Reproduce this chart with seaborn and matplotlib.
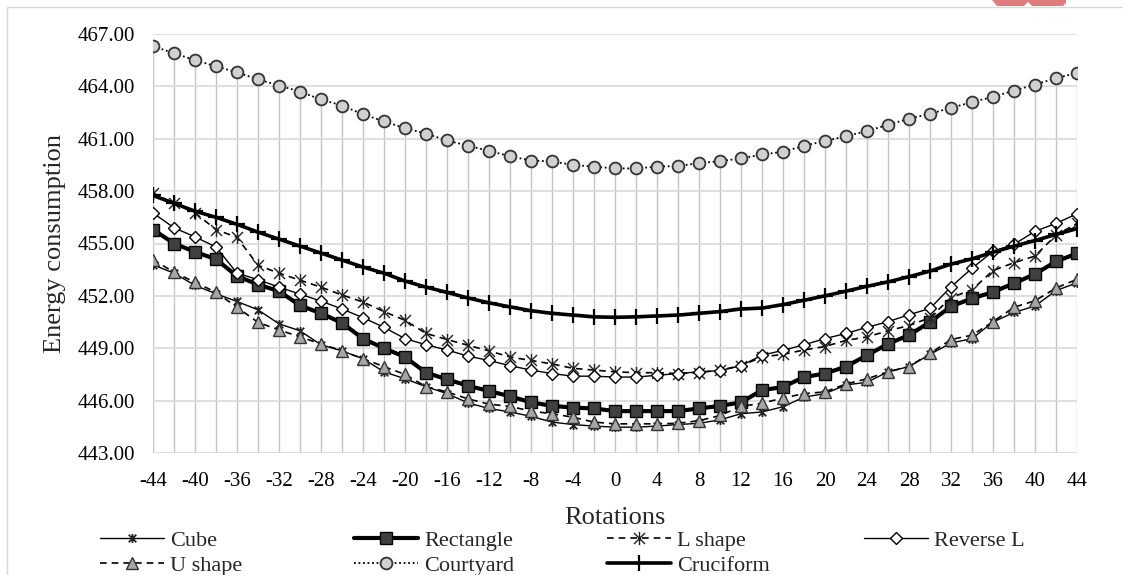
import matplotlib
matplotlib.use("Agg")
import matplotlib.pyplot as plt
import seaborn as sns
from matplotlib.path import Path
from matplotlib.patches import Rectangle, Polygon

rotations = [-44, -42, -40, -38, -36, -34, -32, -30, -28, -26, -24, -22, -20, -18, -16,
             -14, -12, -10, -8, -6, -4, -2, 0, 2, 4, 6, 8, 10, 12, 14, 16, 18, 20, 22,
             24, 26, 28, 30, 32, 34, 36, 38, 40, 42, 44]

cube = [453.78, 453.30, 452.60, 452.12, 451.68, 451.20, 450.40, 450.00, 449.20, 448.85,
        448.40, 447.65, 447.25, 446.80, 446.40, 445.87, 445.55, 445.35, 445.10, 444.77,
        444.63, 444.54, 444.48, 444.48, 444.54, 444.63, 444.70, 444.90, 445.25, 445.35,
        445.65, 446.20, 446.40, 446.90, 447.05, 447.65, 447.95, 448.65, 449.30, 449.55,
        450.50, 451.05, 451.42, 452.30, 452.75]
rectangle = [455.80, 455.00, 454.52, 454.10, 453.13, 452.65, 452.27, 451.45, 451.00, 450.45,
             449.55, 449.00, 448.50, 447.60, 447.22, 446.85, 446.55, 446.25, 445.90, 445.70,
             445.60, 445.55, 445.40, 445.40, 445.40, 445.40, 445.55, 445.70, 445.90, 446.60,
             446.78, 447.35, 447.55, 447.95, 448.60, 449.25, 449.75, 450.50, 451.40, 451.85,
             452.22, 452.72, 453.25, 453.97, 454.43]
l_shape = [457.90, 457.30, 456.75, 455.80, 455.35, 453.75, 453.30, 452.90, 452.50, 452.05,
           451.65, 451.10, 450.60, 449.85, 449.50, 449.17, 448.85, 448.50, 448.30, 448.10,
           447.85, 447.75, 447.65, 447.60, 447.60, 447.55, 447.60, 447.75, 448.00, 448.50,
           448.65, 448.90, 449.10, 449.45, 449.65, 450.00, 450.30, 450.75, 451.90, 452.35,
           453.45, 453.90, 454.28, 455.48, 456.15]
reverse_l = [456.75, 455.90, 455.38, 454.80, 453.30, 452.93, 452.50, 452.10, 451.70, 451.25,
             450.75, 450.20, 449.55, 449.20, 448.90, 448.55, 448.30, 448.00, 447.75, 447.55,
             447.40, 447.40, 447.35, 447.35, 447.45, 447.55, 447.65, 447.72, 448.00, 448.60,
             448.88, 449.20, 449.55, 449.85, 450.20, 450.52, 450.92, 451.28, 452.52, 453.58,
             454.55, 454.95, 455.70, 456.15, 456.70]
u_shape = [454.08, 453.35, 452.78, 452.20, 451.35, 450.48, 450.05, 449.65, 449.25, 448.85,
           448.40, 447.95, 447.50, 446.80, 446.50, 446.10, 445.80, 445.67, 445.40, 445.25,
           445.05, 444.77, 444.67, 444.67, 444.67, 444.70, 444.85, 445.15, 445.67, 445.85,
           446.15, 446.40, 446.50, 446.95, 447.25, 447.65, 447.95, 448.70, 449.50, 449.75,
           450.52, 451.35, 451.72, 452.45, 452.95]
courtyard = [466.30, 465.90, 465.50, 465.15, 464.80, 464.40, 464.05, 463.70, 463.25, 462.90,
             462.40, 462.00, 461.60, 461.30, 460.90, 460.60, 460.30, 460.00, 459.75, 459.70,
             459.50, 459.40, 459.30, 459.30, 459.40, 459.44, 459.60, 459.72, 459.87, 460.10,
             460.25, 460.60, 460.87, 461.15, 461.44, 461.80, 462.15, 462.43, 462.77, 463.10,
             463.40, 463.76, 464.10, 464.47, 464.77]
cruciform = [457.75, 457.30, 456.85, 456.50, 456.10, 455.65, 455.25, 454.85, 454.45, 454.05,
             453.65, 453.30, 452.85, 452.50, 452.20, 451.88, 451.60, 451.37, 451.15, 451.00,
             450.90, 450.80, 450.77, 450.80, 450.85, 450.90, 451.00, 451.10, 451.25, 451.30,
             451.50, 451.75, 452.00, 452.27, 452.55, 452.80, 453.10, 453.42, 453.82, 454.12,
             454.50, 454.85, 455.17, 455.52, 455.85]

y_ticks = [443, 446, 449, 452, 455, 458, 461, 464, 467]
x_ticks = [-44, -40, -36, -32, -28, -24, -20, -16, -12, -8, -4, 0,
           4, 8, 12, 16, 20, 24, 28, 32, 36, 40, 44]

sns.set_style("white")
plt.rcParams["font.family"] = ["Liberation Serif", "DejaVu Serif"]
plt.rcParams["axes.unicode_minus"] = False

W, H = 1123, 575
fig = plt.figure(figsize=(W / 100, H / 100), dpi=100)
ax = fig.add_axes([153 / W, 1 - 453 / H, 924 / W, 419 / H])

# Excel style "star": an X with a vertical bar
star = Path([(-1, -1), (1, 1), (-1, 1), (1, -1), (0, -1.2), (0, 1.2)],
            [Path.MOVETO, Path.LINETO] * 3)

# drop lines from the top series
ax.vlines(rotations, 443, courtyard, color="#c4c4c4", linewidth=1, zorder=0)

series = [
    ("Cube", cube, dict(linewidth=1, linestyle="-", marker=star, markersize=6.5,
                        markeredgecolor="#222222", markerfacecolor="none", markeredgewidth=1.3)),
    ("Rectangle", rectangle, dict(linewidth=3, linestyle="-", marker="s", markersize=8.5,
                                  markerfacecolor="#404040", markeredgecolor="black",
                                  markeredgewidth=1)),
    ("L shape", l_shape, dict(linewidth=1.2, linestyle=(0, (4, 3)), marker=star, markersize=9.5,
                              markeredgecolor="#222222", markerfacecolor="none",
                              markeredgewidth=1)),
    ("Reverse L", reverse_l, dict(linewidth=1, linestyle="-", marker="D", markersize=6.5,
                                  markerfacecolor="white", markeredgecolor="black",
                                  markeredgewidth=1)),
    ("U shape", u_shape, dict(linewidth=1.2, linestyle=(0, (4, 3)), marker="^", markersize=8,
                              markerfacecolor="#a6a6a6", markeredgecolor="#333333",
                              markeredgewidth=1)),
    ("Courtyard", courtyard, dict(linewidth=1.3, linestyle=(0, (1, 1.5)), marker="o",
                                  markersize=8.5, markerfacecolor="#d0d0d0",
                                  markeredgecolor="#333333", markeredgewidth=1.3)),
    ("Cruciform", cruciform, dict(linewidth=2.6, linestyle="-", marker="+", markersize=11,
                                  markeredgecolor="black", markeredgewidth=1.6)),
]

handles = {}
for name, vals, style in series:
    sns.lineplot(x=rotations, y=vals, ax=ax, color="black", legend=False, **style)
    handles[name] = ax.lines[-1]
if ax.get_legend() is not None:
    ax.get_legend().remove()

ax.set_xlim(-44, 44)
ax.set_ylim(443, 467)
ax.set_yticks(y_ticks)
ax.set_yticklabels([f"{v:.2f}" for v in y_ticks])
ax.set_xticks(x_ticks)
ax.set_xticklabels([str(v) for v in x_ticks])
ax.yaxis.grid(True, color="#d9d9d9", linewidth=1.2)
ax.xaxis.grid(False)
for s in ax.spines.values():
    s.set_visible(False)
ax.tick_params(axis="both", length=0, labelsize=15, colors="black")
ax.tick_params(axis="y", pad=13)
ax.tick_params(axis="x", pad=14)
ax.set_ylabel("Energy consumption", fontsize=19, labelpad=8)
ax.set_xlabel("Rotations", fontsize=19, labelpad=11)

# legend: four columns placed like the Excel legend
cols = [(100, ["Cube", "U shape"]), (354, ["Rectangle", "Courtyard"]),
        (607, ["L shape", "Cruciform"]), (864, ["Reverse L"])]
for x0, names in cols:
    fig.legend([handles[n] for n in names], names, loc="upper left",
               bbox_to_anchor=(x0 / W, 1 - 530 / H), frameon=False, fontsize=16,
               handlelength=2.9, handletextpad=0.25, labelspacing=0.2,
               borderpad=0, borderaxespad=0)

# chart frame and the clipped red shape at the top
fig.patches.append(Rectangle((7 / W, -0.1), 1.2, 1.1 - 7 / H, transform=fig.transFigure,
                             fill=False, edgecolor="#d9d9d9", linewidth=1))
red = [(992, 0), (997, 6), (1024, 6), (1028, 2), (1032, 6), (1063, 6), (1066, 3), (1066, 0)]
fig.patches.append(Polygon([(x / W, 1 - y / H) for x, y in red], closed=True,
                           transform=fig.transFigure, facecolor="#e07b7b", edgecolor="none"))

fig.savefig("out.png", dpi=100)
